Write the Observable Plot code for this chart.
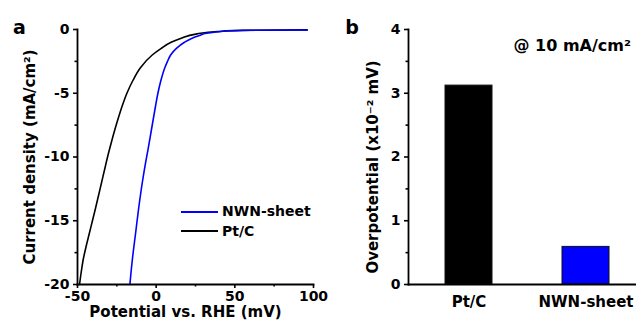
<!DOCTYPE html>
<html>
<head>
<meta charset="utf-8">
<script src="https://cdn.jsdelivr.net/npm/d3@7"></script>
<script src="https://cdn.jsdelivr.net/npm/@observablehq/plot@0.6"></script>
<style>
  html, body { margin: 0; padding: 0; background: white; overflow: hidden; }
  #wrap { position: relative; width: 636px; height: 325px; overflow: hidden; font-family: "DejaVu Sans", sans-serif; font-weight: bold; }
  #pa { position: absolute; left: 0; top: 0; width: 330px; }
  #pb { position: absolute; left: 330px; top: 0; width: 316px; }
  #pa svg, #pb svg { max-width: none; }
  #legend { position: absolute; left: 181px; top: 202px; font-size: 14px; line-height: 19.5px; }
  #legend .row { display: flex; align-items: center; }
  #legend .sw { width: 37px; height: 2px; margin-right: 4px; }
</style>
</head>
<body>
<div id="wrap">
  <div id="pa"></div>
  <div id="pb"></div>
  <div id="legend"></div>
</div>
<script>
// Panel a: polarization curves (potential in mV, current density in mA/cm²)
const ptcCurrent   = [-20, -19, -18, -17, -16, -15, -14, -13, -12, -11, -10, -9, -8, -7, -6, -5, -4, -3, -2, -1.5, -1, -0.7, -0.34, -0.16, -0.07, -0.03];
const ptcPotential = [-48.7, -47.6, -46.3, -44.5, -42.5, -40.5, -38.5, -36.6, -34.7, -32.8, -30.9, -28.8, -26.6, -24.2, -21.6, -18.6, -14.8, -10, -2.5, 3, 9.5, 15.5, 26, 39, 55, 96];
const nwnCurrent   = [-20, -18, -16, -14, -12, -10.5, -9.5, -8, -7, -6, -5, -4, -3, -2.5, -2, -1.5, -1, -0.7, -0.47, -0.3, -0.2, -0.1, -0.06, -0.04];
const nwnPotential = [-16.7, -15.1, -13.1, -11.1, -8.8, -6.8, -5.3, -3.2, -1.8, -0.4, 1.1, 3.0, 5.5, 7.2, 9.2, 12.7, 18.0, 22.5, 27.6, 32, 38, 46, 60, 96];
const seriesNames = ["NWN-sheet", "Pt/C"];
const seriesColors = ["#0000ff", "#000000"];
const xDomainA = [-50, 100];
const yDomainA = [-20, 0];
const xTicksA = [-50, 0, 50, 100];
const xMinorA = [-25, 25, 75];
const yTicksA = [-20, -15, -10, -5, 0];
const yMinorA = [-17.5, -12.5, -7.5, -2.5];

// Panel b: overpotential bars
const catsB = ["Pt/C", "NWN-sheet"];
const valsB = [3.12, 0.59];
const barColors = ["#000000", "#0000ff"];
const yTicksB = [0, 1, 2, 3, 4];
const yMinorB = [0.5, 1.5, 2.5, 3.5];

const font = {fontFamily: "DejaVu Sans, sans-serif", fontWeight: "bold", fontSize: "14px", background: "white", color: "black", overflow: "visible", maxWidth: "none"};
const fmt = d => String(d);

const ptc = ptcPotential.map((x, i) => ({x, y: ptcCurrent[i]}));
const nwn = nwnPotential.map((x, i) => ({x, y: nwnCurrent[i]}));

const chartA = Plot.plot({
  width: 330, height: 325,
  marginLeft: 77, marginRight: 17, marginTop: 29, marginBottom: 41,
  style: font,
  x: {domain: xDomainA},
  y: {domain: yDomainA},
  marks: [
    Plot.line(ptc, {x: "x", y: "y", stroke: seriesColors[1], strokeWidth: 1.6, curve: "monotone-y"}),
    Plot.line(nwn, {x: "x", y: "y", stroke: seriesColors[0], strokeWidth: 1.6, curve: "monotone-y"}),
    Plot.frame({anchor: "left", strokeWidth: 1.8}),
    Plot.frame({anchor: "bottom", strokeWidth: 1.8}),
    Plot.axisX({ticks: xTicksA, tickSize: 4, tickPadding: 2.5, strokeWidth: 1.6, tickFormat: fmt, label: null}),
    Plot.axisX({ticks: xMinorA, tickSize: 2.5, strokeWidth: 1.6, tickFormat: () => "", label: null}),
    Plot.axisY({ticks: yTicksA, tickSize: 4, tickPadding: 4, strokeWidth: 1.6, tickFormat: fmt, label: null}),
    Plot.axisY({ticks: yMinorA, tickSize: 2.5, strokeWidth: 1.6, tickFormat: () => "", label: null}),
    Plot.text(["Current density (mA/cm²)"], {frameAnchor: "left", dx: -47, rotate: -90, fontSize: 15, textAnchor: "middle", lineAnchor: "middle"}),
    Plot.text(["Potential vs. RHE (mV)"], {frameAnchor: "bottom", dx: -10, dy: 28, fontSize: 15, textAnchor: "middle", lineAnchor: "middle"}),
    Plot.text(["a"], {frameAnchor: "top-left", dx: -58, dy: -1.5, fontSize: 19, textAnchor: "middle", lineAnchor: "middle"})
  ]
});
document.getElementById("pa").appendChild(chartA);

const bars = catsB.map((c, i) => ({c, v: valsB[i], color: barColors[i]}));
const chartB = Plot.plot({
  width: 316, height: 325,
  marginLeft: 78, marginRight: 0, marginTop: 29, marginBottom: 41,
  style: font,
  x: {domain: catsB, paddingInner: 0.6, paddingOuter: 0.312},
  y: {domain: [0, 4]},
  marks: [
    Plot.barY(bars, {x: "c", y: "v", fill: "color", stroke: "#111", strokeWidth: 1}),
    Plot.frame({anchor: "left", strokeWidth: 1.8}),
    Plot.frame({anchor: "bottom", strokeWidth: 1.8}),
    Plot.axisX({tickSize: 0, tickPadding: 12, fontSize: 15, label: null}),
    Plot.axisY({ticks: yTicksB, tickSize: 4, tickPadding: 4, strokeWidth: 1.6, tickFormat: fmt, label: null}),
    Plot.axisY({ticks: yMinorB, tickSize: 2.5, strokeWidth: 1.6, tickFormat: () => "", label: null}),
    Plot.text(["Overpotential (x10⁻² mV)"], {frameAnchor: "left", dx: -35, dy: 10, rotate: -90, fontSize: 15, textAnchor: "middle", lineAnchor: "middle"}),
    Plot.text(["@ 10 mA/cm²"], {frameAnchor: "top-left", dx: 105, dy: 16, fontSize: 16, textAnchor: "start", lineAnchor: "middle"}),
    Plot.text(["b"], {frameAnchor: "top-left", dx: -56.5, dy: -1.5, fontSize: 19, textAnchor: "middle", lineAnchor: "middle"})
  ]
});
document.getElementById("pb").appendChild(chartB);

// Legend (HTML)
const legend = d3.select("#legend");
seriesNames.forEach((name, i) => {
  const row = legend.append("div").attr("class", "row");
  row.append("div").attr("class", "sw").style("background", seriesColors[i]);
  row.append("span").text(name);
});
</script>
</body>
</html>
